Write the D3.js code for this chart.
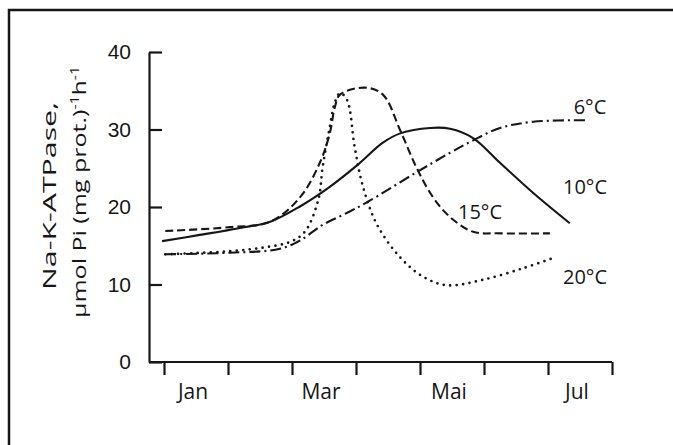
<!DOCTYPE html>
<html>
<head>
<meta charset="utf-8">
<script src="https://cdn.jsdelivr.net/npm/d3@7.9.0/dist/d3.min.js"></script>
<style>
  body { margin: 0; background: #fff; }
  svg { display: block; font-family: "Open Sans", "Noto Sans", sans-serif; }
</style>
</head>
<body>
<svg id="chart" width="673" height="445"></svg>
<script>
// months on the x axis (only every second one is labelled)
const months = ["Jan", "Feb", "Mar", "Apr", "Mai", "Jun", "Jul"];
const yTicks = [0, 10, 20, 30, 40];

// [month position, activity]
const temp6 = [[0.02, 13.9], [1.03, 14.1], [1.81, 14.6], [2.13, 15.7], [2.48, 17.7], [2.8, 19.0],
    [3.17, 20.6], [3.95, 24.5], [4.47, 27.0], [4.83, 28.6], [5.25, 30.2], [5.77, 31.0], [6.61, 31.2]];
const temp10 = [[-0.03, 15.6], [0.56, 16.4], [1.19, 17.3], [1.66, 18.1], [2.13, 20.1], [2.59, 22.6],
    [3.02, 25.4], [3.42, 28.3], [3.69, 29.5], [4.16, 30.2], [4.47, 30.1], [4.83, 28.9], [5.25, 25.7],
    [5.77, 21.8], [6.34, 17.9]];
const temp15 = [[0.02, 16.9], [1.03, 17.4], [1.66, 18.1], [2.13, 21.3], [2.44, 25.8], [2.59, 29.5],
    [2.67, 32.9], [2.75, 34.5], [3.14, 35.4], [3.42, 34.5], [3.69, 29.9], [3.95, 25.0], [4.2, 21.3],
    [4.47, 18.7], [4.83, 16.8], [5.25, 16.6], [6.03, 16.6]];
const temp20 = [[0.02, 13.9], [1.03, 14.3], [1.58, 14.8], [1.97, 15.5], [2.2, 16.8], [2.41, 20.9],
    [2.48, 25.2], [2.59, 30.3], [2.67, 33.5], [2.75, 34.7], [2.86, 33.8], [2.98, 27.7], [3.11, 22.6],
    [3.33, 17.7], [3.69, 13.5], [4.05, 11.0], [4.42, 9.9], [4.98, 10.6], [5.61, 12.1], [6.11, 13.5]];

const seriesLabels = ["6°C", "10°C", "15°C", "20°C"];

const ink = "#161616";
const weight = 500;
const svg = d3.select("#chart");

// frame around the figure (runs off the right and bottom edge)
svg.append("rect")
    .attr("x", 9).attr("y", 10)
    .attr("width", 700).attr("height", 500)
    .attr("fill", "none")
    .attr("stroke", ink)
    .attr("stroke-width", 2.5);

const xScale = d3.scaleLinear().domain([0, months.length]).range([164, 612]);
const yScale = d3.scaleLinear().domain([0, 40]).range([362, 52]);
const axisX = 149;

// y axis, ticks point inwards
const yAxis = svg.append("g")
    .attr("transform", `translate(${axisX},0)`)
    .call(d3.axisLeft(yScale).tickValues(yTicks).tickSizeInner(-13).tickSizeOuter(0).tickPadding(18));
yAxis.selectAll("path, line").attr("stroke", ink).attr("stroke-width", 2.2);
yAxis.selectAll("text").attr("fill", ink)
    .style("font-size", "21px").style("font-weight", weight).attr("font-family", null);

// x axis, ticks at month boundaries
const xAxis = svg.append("g")
    .attr("transform", `translate(0,${yScale(0)})`)
    .call(d3.axisBottom(xScale).ticks(months.length).tickSize(13).tickFormat(""));
xAxis.select(".domain").remove();
xAxis.selectAll("line").attr("stroke", ink).attr("stroke-width", 2.2);
xAxis.append("line")
    .attr("x1", axisX).attr("x2", xScale(months.length))
    .attr("stroke", ink).attr("stroke-width", 2.2);

// month labels centred in each interval
svg.append("g").selectAll("text")
    .data(months.map((m, i) => ({ m, i })).filter(d => d.i % 2 === 0))
    .enter()
    .append("text")
    .attr("x", d => xScale(d.i + 0.5) - 3)
    .attr("y", 399)
    .attr("text-anchor", "middle")
    .attr("fill", ink)
    .style("font-size", "21px")
    .style("font-weight", weight)
    .text(d => d.m);

// y axis title, two rotated lines
const yTitle = svg.append("text")
    .attr("transform", "translate(56,196) rotate(-90)")
    .attr("text-anchor", "middle")
    .attr("fill", ink)
    .style("font-size", "19px")
    .style("font-weight", weight);
yTitle.append("tspan")
    .attr("x", 0).attr("y", 0)
    .attr("textLength", 188).attr("lengthAdjust", "spacingAndGlyphs")
    .text("Na-K-ATPase,");
const line2 = yTitle.append("tspan")
    .attr("x", 4).attr("y", 30)
    .attr("textLength", 252).attr("lengthAdjust", "spacingAndGlyphs");
line2.append("tspan").text("µmol Pi (mg prot.)");
line2.append("tspan").attr("dy", -7).style("font-size", "12px").text("-1");
line2.append("tspan").attr("dy", 7).text("h");
line2.append("tspan").attr("dy", -7).style("font-size", "12px").text("-1");

// curves
const line = d3.line()
    .x(d => xScale(d[0]))
    .y(d => yScale(d[1]))
    .curve(d3.curveCatmullRom.alpha(0.5));

const curves = [
    { data: temp6, dash: "11,4,2,4", cap: "butt", width: 2.1 },
    { data: temp10, dash: null, cap: "butt", width: 2.1 },
    { data: temp15, dash: "8,4", cap: "butt", width: 2.1 },
    { data: temp20, dash: "0,6.5", cap: "round", width: 2.7 }
];

svg.append("g").selectAll("path")
    .data(curves)
    .enter()
    .append("path")
    .attr("d", d => line(d.data))
    .attr("fill", "none")
    .attr("stroke", ink)
    .attr("stroke-width", d => d.width)
    .attr("stroke-linecap", d => d.cap)
    .attr("stroke-dasharray", d => d.dash);

// curve labels
const labelPos = [[590, 114], [585, 194], [480, 219], [585, 284]];
svg.append("g").selectAll("text")
    .data(seriesLabels)
    .enter()
    .append("text")
    .attr("x", (d, i) => labelPos[i][0])
    .attr("y", (d, i) => labelPos[i][1])
    .attr("text-anchor", "middle")
    .attr("fill", ink)
    .style("font-size", "20px")
    .style("font-weight", weight)
    .text(d => d);
</script>
</body>
</html>
